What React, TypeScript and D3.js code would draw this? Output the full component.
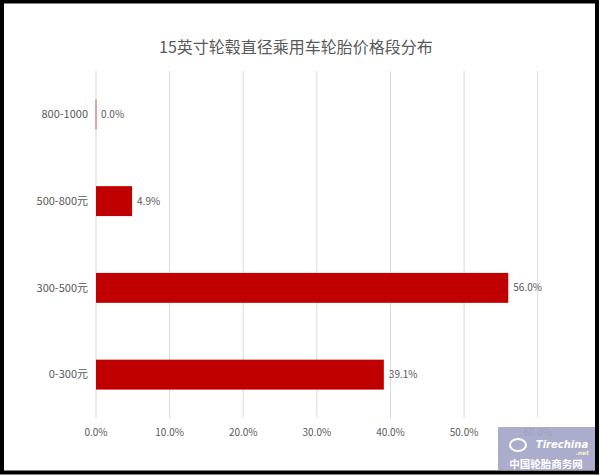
import React from "react";
import * as d3 from "d3";

const categories = ["800-1000", "500-800元", "300-500元", "0-300元"];
const values = [0.0, 4.9, 56.0, 39.1];
const xTicks = [0, 10, 20, 30, 40, 50, 60];
const title = "15英寸轮毂直径乘用车轮胎价格段分布";

const W = 600;
const H = 475;
const FONT = "'Noto Sans CJK SC', 'Noto Sans', sans-serif";

export default function App() {
  const x = d3.scaleLinear().domain([0, 60]).range([96, 537.7]);
  const y = d3
    .scaleBand<string>()
    .domain(categories)
    .range([71, 418])
    .paddingInner(0.655)
    .paddingOuter(0.3275);
  const bw = y.bandwidth();

  return (
    <svg
      width={W}
      height={H}
      style={{ position: "absolute", left: 0, top: 0, background: "#fff" }}
      fontFamily={FONT}
    >
      <rect x={0} y={0} width={W} height={H} fill="#fff" />
      {/* gridlines */}
      {xTicks.map((t) => (
        <line
          key={t}
          x1={x(t)}
          x2={x(t)}
          y1={71}
          y2={418}
          stroke="#d9d9d9"
          strokeWidth={1}
        />
      ))}
      {/* title */}
      <text x={296} y={53} textAnchor="middle" fontSize={16} fill="#595959">
        {title}
      </text>
      {/* bars */}
      {categories.map((c, i) => {
        const v = values[i];
        const w = x(v) - x(0);
        return (
          <g key={c}>
            {v === 0 ? (
              <rect
                x={x(0) - 0.5}
                y={y(c)!}
                width={1}
                height={bw}
                fill="#c00000"
                opacity={0.6}
              />
            ) : (
              <rect x={x(0)} y={y(c)!} width={w} height={bw} fill="#c00000" />
            )}
            <text
              x={x(v) + 5}
              y={y(c)! + bw / 2}
              dy="0.35em"
              fontSize={10}
              fill="#595959"
            >
              {v.toFixed(1) + "%"}
            </text>
            <text
              x={88}
              y={y(c)! + bw / 2}
              dy="0.35em"
              textAnchor="end"
              fontSize={11}
              fill="#595959"
            >
              {c}
            </text>
          </g>
        );
      })}
      {/* x tick labels */}
      {xTicks.map((t) => (
        <text
          key={t}
          x={x(t)}
          y={432}
          dy="0.35em"
          textAnchor="middle"
          fontSize={10}
          fill="#595959"
        >
          {t.toFixed(1) + "%"}
        </text>
      ))}
      {/* watermark */}
      <rect x={498} y={427} width={97} height={43} fill="#a4a6c8" opacity={0.92} />
      <ellipse
        cx={518}
        cy={445}
        rx={8}
        ry={6}
        fill="none"
        stroke="#fff"
        strokeWidth={2}
      />
      <text
        x={562}
        y={448}
        textAnchor="middle"
        fontSize={10}
        fontStyle="italic"
        fontWeight="bold"
        fill="#fff"
        fontFamily="'DejaVu Sans', sans-serif"
      >
        Tirechina
      </text>
      <text
        x={589}
        y={455}
        textAnchor="end"
        fontSize={6}
        fontStyle="italic"
        fontWeight="bold"
        fill="#f3f0c8"
        fontFamily="'DejaVu Sans', sans-serif"
      >
        .net
      </text>
      <text
        x={546}
        y={467.5}
        textAnchor="middle"
        fontSize={10.5}
        fontWeight="bold"
        fill="#fff"
      >
        中国轮胎商务网
      </text>
      {/* frame */}
      <rect
        x={2}
        y={1.5}
        width={595}
        height={471}
        fill="none"
        stroke="#000"
        strokeWidth={4}
      />
    </svg>
  );
}
